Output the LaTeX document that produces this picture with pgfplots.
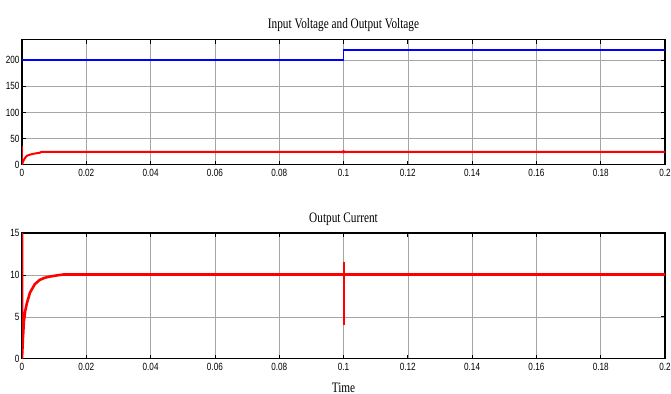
\documentclass[border=0pt]{standalone}
\usepackage{fontspec}
\setmainfont{Liberation Serif}
\newfontfamily\titlefont{Liberation Serif}[FakeStretch=0.78]
\newfontfamily\tickfont{Liberation Sans}[FakeStretch=0.78]
\usepackage{pgfplots}
\pgfplotsset{compat=1.18}
\definecolor{mblue}{RGB}{0,0,255}
\definecolor{mred}{RGB}{255,0,0}
\pgfplotsset{
  mstyle/.style={
    scale only axis,
    width=643bp,
    xmin=0, xmax=0.2,
    xtick={0,0.02,0.04,0.06,0.08,0.1,0.12,0.14,0.16,0.18,0.2},
    xticklabels={0,0.02,0.04,0.06,0.08,0.1,0.12,0.14,0.16,0.18,0.2},
    grid=major,
    major grid style={gray!70, line width=0.5pt},
    axis line style={black, line width=1.3pt},
    tick style={black, line width=0.8pt},
    major tick length=4bp,
    tick align=inside,
    ticklabel style={font=\tickfont\fontsize{10.5}{11}\selectfont},
    /pgf/number format/assume math mode=true,
    xticklabel style={yshift=-1bp},
    yticklabel style={xshift=1bp},
    title style={font=\titlefont\fontsize{14.5}{15}\selectfont, yshift=-2bp},
    label style={font=\titlefont\fontsize{14.5}{15}\selectfont},
  }
}
\begin{document}
\begin{tikzpicture}
\path[use as bounding box] (0,0) rectangle (671bp,-394bp);
\begin{axis}[mstyle,
  at={(22bp,-39.5bp)}, anchor=north west,
  height=125bp,
  ymin=0, ymax=240,
  ytick={0,50,100,150,200},
  title={Input Voltage and Output Voltage},
]
\addplot[mblue, line width=2pt] coordinates {
(0,200) (0.1,200) (0.1,220) (0.2,220)
};
\addplot[mred, line width=2pt] coordinates {
(0,36) (0,0) (0.0003,5) (0.0006,9) (0.001,13) (0.0015,16.7) (0.0025,19) (0.0035,20.5) (0.0045,21.6) (0.0055,22.4) (0.006,24.2) (0.1,24.2) (0.1,27.5) (0.1,21.5) (0.1,24.2) (0.2,24.2)
};
\end{axis}
\begin{axis}[mstyle,
  at={(22bp,-233bp)}, anchor=north west,
  height=125.7bp,
  ymin=0, ymax=15,
  ytick={0,5,10,15},
  title={Output Current},
  xlabel={Time},
  xlabel style={yshift=-5bp},
]
\addplot[mred, line width=2.6pt] coordinates {
(0,15) (0,0) (0.0003,2.5) (0.0006,4.5) (0.001,5.7) (0.0015,6.6) (0.0025,7.9) (0.004,8.9) (0.0055,9.4) (0.007,9.65) (0.0086,9.8) (0.011,9.95) (0.013,10.05) (0.1,10.05) (0.2,10.05)
};
\addplot[mred, line width=2pt] coordinates {
(0.1002,11.5) (0.1002,4)
};
\end{axis}
\end{tikzpicture}
\end{document}
